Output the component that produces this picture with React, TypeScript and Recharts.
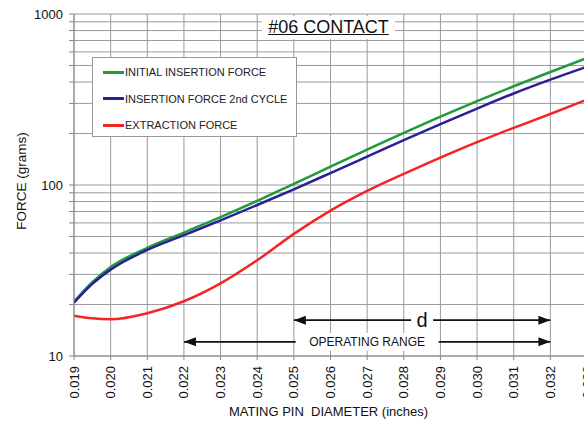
import { LineChart, Line, XAxis, YAxis, CartesianGrid, Legend, ReferenceLine } from "recharts";

const diameters = [0.019, 0.0195, 0.02, 0.021, 0.022, 0.023, 0.024, 0.025, 0.026, 0.027, 0.028, 0.029, 0.03, 0.031, 0.032, 0.033];
const initialForce = [20.8, 27.0, 33.1, 42.9, 52.7, 64.9, 80.7, 101.6, 128, 161, 202, 251, 309, 378, 458, 553];
const secondCycleForce = [20.5, 26.4, 32.0, 41.7, 50.9, 62.1, 76.4, 94.4, 117.5, 146.6, 183, 227, 280, 343, 413, 492];
const extractionForce = [17.2, 16.6, 16.4, 17.8, 20.9, 26.6, 36.3, 51.8, 70.8, 92.3, 116, 144.5, 178, 216, 260, 316];

const seriesNames = ["INITIAL INSERTION FORCE", "INSERTION FORCE 2nd CYCLE", "EXTRACTION FORCE"];

const xTicks = [0.019, 0.02, 0.021, 0.022, 0.023, 0.024, 0.025, 0.026, 0.027, 0.028, 0.029, 0.03, 0.031, 0.032, 0.033];
const yTicks = [10, 20, 30, 40, 50, 60, 70, 80, 90, 100, 200, 300, 400, 500, 600, 700, 800, 900, 1000];
const yLabels = [10, 100, 1000];

// annotation arrows under the curves
const dRange = [0.025, 0.032];
const dLevel = 16.2;
const opRange = [0.022, 0.032];
const opLevel = 12.1;

const FONT = '"Liberation Sans", Arial, sans-serif';

const data = diameters.map((d, i) => ({
  d,
  initial: initialForce[i],
  second: secondCycleForce[i],
  extraction: extractionForce[i],
}));

const YTick = (props: any) => {
  const { x, y, payload } = props;
  return (
    <g>
      <line x1={x + 4} x2={x + 9} y1={y} y2={y} stroke="#888" />
      {yLabels.includes(payload.value) && (
        <text x={x - 2} y={y} dy={4.5} textAnchor="end" fontSize={13} fill="#111" fontFamily={FONT}>
          {payload.value}
        </text>
      )}
    </g>
  );
};

const XTick = (props: any) => {
  const { x, y, payload } = props;
  return (
    <text
      transform={`translate(${x},${y + 2}) rotate(-90)`}
      dy="0.35em"
      textAnchor="end"
      fontSize={13}
      fill="#111"
      fontFamily={FONT}
    >
      {payload.value.toFixed(3)}
    </text>
  );
};

const YLabel = (props: any) => {
  const { viewBox } = props;
  const cx = viewBox.x + 21;
  const cy = viewBox.y + viewBox.height / 2 - 4;
  return (
    <text x={cx} y={cy} transform={`rotate(-90,${cx},${cy})`} textAnchor="middle" dy="0.35em" fontSize={13.5} fill="#111" fontFamily={FONT}>
      FORCE (grams)
    </text>
  );
};

const XLabel = (props: any) => {
  const { viewBox } = props;
  return (
    <text x={viewBox.x + viewBox.width / 2 - 2} y={viewBox.y + 60} textAnchor="middle" fontSize={13} fill="#111" fontFamily={FONT} style={{ whiteSpace: "pre" }}>
      {"MATING PIN  DIAMETER (inches)"}
    </text>
  );
};

const arrowShape = (label: string, fontSize: number, gap: number) => (props: any) => {
  const { x1, x2, y1 } = props;
  const cx = (x1 + x2) / 2;
  const y = y1;
  return (
    <g>
      <line x1={x1} x2={x2} y1={y} y2={y} stroke="#111" strokeWidth={1.6} />
      <polygon points={`${x1},${y} ${x1 + 12},${y - 4.5} ${x1 + 12},${y + 4.5}`} fill="#111" />
      <polygon points={`${x2},${y} ${x2 - 12},${y - 4.5} ${x2 - 12},${y + 4.5}`} fill="#111" />
      <rect x={cx - gap / 2} y={y - 9} width={gap} height={18} fill="#fff" />
      <text x={cx} y={y} dy="0.35em" textAnchor="middle" fontSize={fontSize} fill="#111" fontFamily={FONT}>
        {label}
      </text>
    </g>
  );
};

const LegendBox = (props: any) => {
  const { payload } = props;
  const items = [...(payload || [])].sort((a: any, b: any) => seriesNames.indexOf(a.value) - seriesNames.indexOf(b.value));
  return (
    <div
      style={{
        width: 205,
        height: 80,
        boxSizing: "border-box",
        background: "#fff",
        border: "1px solid #999",
        paddingTop: 1,
        fontFamily: FONT,
      }}
    >
      {items.map((p: any) => (
        <div key={p.value} style={{ display: "flex", alignItems: "center", height: 26.5, paddingLeft: 10 }}>
          <div style={{ width: 21, height: 3, background: p.color }} />
          <span style={{ fontSize: 11, color: "#222", marginLeft: 1, whiteSpace: "nowrap" }}>{p.value}</span>
        </div>
      ))}
    </div>
  );
};

export default function App() {
  return (
    <div style={{ position: "absolute", left: 0, top: 0, width: 584, height: 422, overflow: "hidden", background: "#fff" }}>
      <LineChart width={600} height={422} data={data} margin={{ top: 14, right: 13, bottom: 6, left: 0 }}>
        <CartesianGrid stroke="#9a9a9a" strokeWidth={1} />
        <XAxis
          dataKey="d"
          type="number"
          domain={[0.019, 0.033]}
          ticks={xTicks}
          interval={0}
          allowDataOverflow
          height={60}
          tickSize={4}
          tickMargin={4}
          stroke="#888"
          tick={<XTick />}
          label={<XLabel />}
        />
        <YAxis
          type="number"
          scale="log"
          domain={[10, 1000]}
          ticks={yTicks}
          allowDataOverflow
          width={74}
          tickSize={6}
          tickMargin={3}
          tickLine={false}
          stroke="#888"
          tick={<YTick />}
          label={<YLabel />}
          interval={0}
        />
        <Legend
          layout="vertical"
          verticalAlign="middle"
          align="center"
          wrapperStyle={{ left: 92, top: 57, width: 205, height: 80 }}
          content={<LegendBox />}
        />
        <ReferenceLine
          segment={[{ x: dRange[0], y: dLevel }, { x: dRange[1], y: dLevel }]}
          shape={arrowShape("d", 20, 22)}
        />
        <ReferenceLine
          segment={[{ x: opRange[0], y: opLevel }, { x: opRange[1], y: opLevel }]}
          shape={arrowShape("OPERATING RANGE", 12, 143)}
        />
        <Line name={seriesNames[0]} dataKey="initial" type="monotone" stroke="#1f9a3c" strokeWidth={2.5} dot={false} isAnimationActive={false} />
        <Line name={seriesNames[1]} dataKey="second" type="monotone" stroke="#2a2096" strokeWidth={2.5} dot={false} isAnimationActive={false} />
        <Line name={seriesNames[2]} dataKey="extraction" type="monotone" stroke="#f52424" strokeWidth={2.5} dot={false} isAnimationActive={false} />
      </LineChart>
      <div
        style={{
          position: "absolute",
          left: 262,
          top: 16,
          width: 133,
          height: 23,
          background: "#fff",
          fontFamily: FONT,
          fontSize: 18,
          lineHeight: "23px",
          textAlign: "center",
          textDecoration: "underline",
          color: "#111",
        }}
      >
        #06 CONTACT
      </div>
    </div>
  );
}
